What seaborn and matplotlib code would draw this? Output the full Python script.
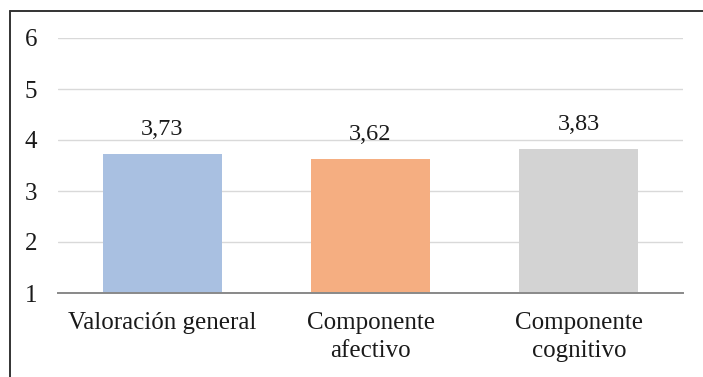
import matplotlib
matplotlib.use("Agg")
import matplotlib.pyplot as plt
from matplotlib.lines import Line2D
import seaborn as sns
import pandas as pd

# Chart data
categories = ["Valoración general", "Componente\nafectivo", "Componente\ncognitivo"]
values = [3.73, 3.62, 3.83]
colors = ["#A9C0E1", "#F5AE81", "#D3D3D3"]
y_ticks = [1, 2, 3, 4, 5, 6]

sns.set_theme(style="white")
plt.rcParams["font.family"] = ["Liberation Serif", "DejaVu Serif"]

df = pd.DataFrame({"categoria": categories, "valor": values})

fig = plt.figure(figsize=(7.03, 3.77), dpi=100)
ax = fig.add_axes([58 / 703, 1 - 293 / 377, (683 - 58) / 703, (293 - 38) / 377])

sns.barplot(data=df, x="categoria", y="valor", hue="categoria",
            palette=colors, saturation=1, width=0.57, legend=False,
            linewidth=0, ax=ax, zorder=2)

ax.set_ylim(1, 6)
ax.set_yticks(y_ticks)
ax.set_xlim(-0.5, 2.5)
ax.grid(axis="y", color="#D9D9D9", linewidth=1.0, zorder=0)
ax.set_axisbelow(True)

for s in ["top", "right", "left"]:
    ax.spines[s].set_visible(False)
ax.spines["bottom"].set_color("#898989")
ax.spines["bottom"].set_linewidth(1.4)
ax.spines["bottom"].set_zorder(3)

ax.set_xlabel("")
ax.set_ylabel("")
ax.tick_params(axis="both", length=0, labelsize=18, colors="#1a1a1a")
ax.tick_params(axis="y", pad=15)
ax.tick_params(axis="x", pad=14)
for lbl in ax.get_xticklabels():
    lbl.set_linespacing(1.3)

# Value labels above each bar, decimal comma
for cont in ax.containers:
    labels = [f"{b.get_height():.2f}".replace(".", ",") for b in cont]
    ax.bar_label(cont, labels=labels, padding=10, fontsize=17.5, color="#1a1a1a")

# Outer frame (left and top edges)
fig.add_artist(Line2D([9.5 / 703, 9.5 / 703], [0, 1 - 10.5 / 377],
                      transform=fig.transFigure, color="#333333", linewidth=1.4))
fig.add_artist(Line2D([9.5 / 703, 1], [1 - 10.5 / 377, 1 - 10.5 / 377],
                      transform=fig.transFigure, color="#333333", linewidth=1.4))

fig.savefig("out.png", dpi=100, facecolor="white")
